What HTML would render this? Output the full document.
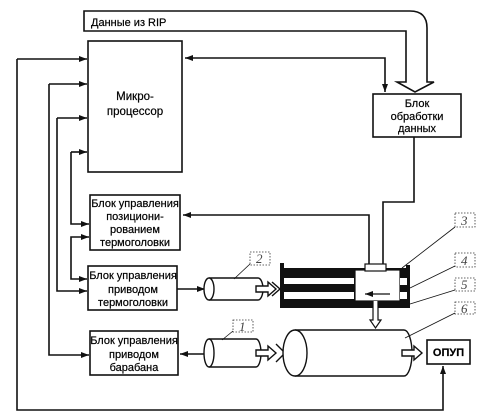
<!DOCTYPE html>
<html><head><meta charset="utf-8"><style>
body{margin:0;background:#fff}
svg{display:block}
text{font-family:"Liberation Sans",sans-serif;font-size:11.5px;fill:#000;stroke:#000;stroke-width:0.2}
.l{font-family:"Liberation Serif",serif;font-style:italic;font-size:13px;fill:#444;stroke:none}
</style></head><body>
<svg width="479" height="417" viewBox="0 0 479 417" xmlns="http://www.w3.org/2000/svg">
<defs>
<marker id="a" markerWidth="8" markerHeight="6" refX="8" refY="3" orient="auto" markerUnits="userSpaceOnUse"><path d="M0,0 L8,3 L0,6 Z" fill="#111"/></marker>
<marker id="as" markerWidth="8" markerHeight="6" refX="0" refY="3" orient="auto" markerUnits="userSpaceOnUse"><path d="M8,0 L0,3 L8,6 Z" fill="#111"/></marker>
</defs>
<g fill="none" stroke="#111" stroke-width="1.6">
<path d="M84,11 H410 Q427,11 427,28 V82 H434 L415,92 L397,82 H406 V31 H84 Z" fill="#fff"/>
<rect x="88" y="41" width="94" height="131"/>
<rect x="373" y="94" width="88" height="43"/>
<rect x="90" y="195" width="90" height="55"/>
<rect x="88" y="266" width="89" height="44"/>
<rect x="90" y="331" width="88" height="44"/>
<rect x="427" y="340" width="43" height="24"/>
<path d="M185,58 H385 V92" marker-start="url(#as)" marker-end="url(#a)"/>
<path d="M17,59 H87" marker-end="url(#a)"/>
<path d="M17,59 V410 H443 V366" marker-end="url(#a)"/>
<path d="M49,84 H87" marker-end="url(#a)"/>
<path d="M49,84 V355 H89" marker-end="url(#a)"/>
<path d="M57,118 H87" marker-end="url(#a)"/>
<path d="M57,118 V291 H87" marker-end="url(#a)"/>
<path d="M71,152 H87" marker-end="url(#a)"/>
<path d="M71,152 V224 H89" marker-end="url(#a)"/>
<path d="M89,237 H71 V279 H87" marker-start="url(#as)" marker-end="url(#a)"/>
<path d="M414,137 V202 H383 V265"/>
<path d="M369,265 V215 H183" marker-end="url(#a)"/>
<path d="M177,289 H205" marker-end="url(#a)"/>
<path d="M204,354 H180" marker-end="url(#a)"/>
</g>
<rect x="280" y="263" width="4" height="45" fill="#111"/>
<rect x="280" y="268" width="130" height="40" fill="#111"/>
<rect x="406" y="265" width="4" height="43" fill="#111"/>
<rect x="284" y="278" width="70" height="6" fill="#fff"/>
<rect x="284" y="292" width="70" height="7" fill="#fff"/>
<rect x="355" y="270" width="45" height="31" fill="#fff" stroke="#111" stroke-width="1.2"/>
<rect x="400" y="278" width="7" height="7" fill="#fff"/>
<rect x="400" y="292" width="7" height="7" fill="#fff"/>
<rect x="365" y="264" width="21" height="7" fill="#fff" stroke="#111" stroke-width="1.2"/>
<path d="M390,294 H365" stroke="#111" stroke-width="1.2" marker-end="url(#a)" fill="none"/>
<path d="M373,301 V320 H370 L375.5,328 L381,320 H378 V301" fill="#fff" stroke="#111" stroke-width="1.2"/>
<g fill="#fff" stroke="#111" stroke-width="1.4">
<path d="M209,278 H258 A5,11 0 0 1 258,300 H209"/>
<ellipse cx="209" cy="289" rx="5" ry="11"/>
<path d="M256,286 H268 V282 L276,289 L268,296 V292 H256 Z"/>
<path d="M272,282 L280,289 L272,296" fill="none"/>
<path d="M209,339 H256 A5,14 0 0 1 256,367 H209"/>
<ellipse cx="209" cy="353" rx="5" ry="14"/>
<path d="M256,350 H268 V346 L276,353 L268,360 V356 H256 Z"/>
<path d="M276,344 L285,353 L276,362" fill="none"/>
<path d="M295,330 H404 A8,23 0 0 1 404,376 H295"/>
<ellipse cx="295" cy="353" rx="12" ry="23"/>
<path d="M402,350 H414 V346 L422,353 L414,360 V356 H402 Z"/>
</g>
<g fill="#fff" stroke="#333" stroke-width="0.8" stroke-dasharray="1.5,1.5">
<rect x="455" y="213" width="20" height="14"/>
<rect x="455" y="253" width="20" height="14"/>
<rect x="455" y="278" width="20" height="13"/>
<rect x="455" y="302" width="20" height="12"/>
<rect x="250" y="252" width="20" height="13"/>
<rect x="233" y="320" width="20" height="12"/>
</g>
<g stroke="#111" stroke-width="0.8" fill="none">
<path d="M455,227 L402,268"/>
<path d="M455,266 L410,288"/>
<path d="M455,290 L410,304"/>
<path d="M455,313 L405,338"/>
<path d="M250,264 L234,279"/>
<path d="M233,331 L222,340"/>
</g>
<text class="l" x="461" y="225">3</text>
<text class="l" x="461" y="265">4</text>
<text class="l" x="461" y="289">5</text>
<text class="l" x="461" y="313">6</text>
<text class="l" x="256" y="263">2</text>
<text class="l" x="239" y="331">1</text>
<text x="91" y="26" style="font-size:11px">Данные из RIP</text>
<text x="135" y="100" text-anchor="middle">Микро-</text>
<text x="135" y="115" text-anchor="middle">процессор</text>
<text x="417" y="107" text-anchor="middle" style="font-size:11px">Блок</text>
<text x="417" y="120" text-anchor="middle" style="font-size:11px">обработки</text>
<text x="417" y="132" text-anchor="middle" style="font-size:11px">данных</text>
<g>
<text x="135" y="207" text-anchor="middle" style="font-size:11px">Блок управления</text>
<text x="135" y="220" text-anchor="middle" style="font-size:11px">позициони-</text>
<text x="135" y="233" text-anchor="middle" style="font-size:11px">рованием</text>
<text x="135" y="246" text-anchor="middle" style="font-size:11px">термоголовки</text>
<text x="133" y="279" text-anchor="middle" style="font-size:11px">Блок управления</text>
<text x="133" y="293" text-anchor="middle" style="font-size:11px">приводом</text>
<text x="133" y="306" text-anchor="middle" style="font-size:11px">термоголовки</text>
<text x="134" y="344" text-anchor="middle" style="font-size:11px">Блок управления</text>
<text x="134" y="358" text-anchor="middle" style="font-size:11px">приводом</text>
<text x="134" y="371" text-anchor="middle" style="font-size:11px">барабана</text>
</g>
<text x="448.5" y="356" text-anchor="middle" style="font-size:11px;font-weight:bold">ОПУП</text>
</svg>
</body></html>
